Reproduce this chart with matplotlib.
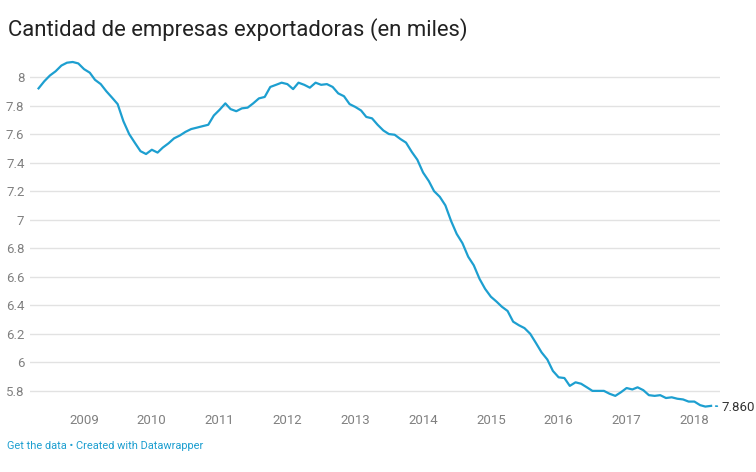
import numpy as np
import pandas as pd
import matplotlib
matplotlib.use("Agg")
import matplotlib.pyplot as plt
import matplotlib.dates as mdates

plt.rcParams['font.family'] = ['Roboto', 'DejaVu Sans']

# monthly series, May 2008 - Apr 2018 (thousands of exporting firms)
meses = pd.date_range('2008-05-01', periods=120, freq='MS')
empresas = [
    7.92, 7.97, 8.01, 8.04, 8.08, 8.10, 8.105, 8.095, 8.055, 8.03,
    7.98, 7.95, 7.90, 7.855, 7.81, 7.69, 7.60, 7.54, 7.48, 7.46,
    7.49, 7.47, 7.505, 7.535, 7.57, 7.59, 7.615, 7.635, 7.645, 7.655,
    7.665, 7.73, 7.77, 7.815, 7.775, 7.76, 7.78, 7.785, 7.815, 7.85,
    7.86, 7.93, 7.945, 7.96, 7.95, 7.915, 7.96, 7.945, 7.925, 7.96,
    7.945, 7.95, 7.93, 7.885, 7.865, 7.81, 7.79, 7.765, 7.72, 7.71,
    7.665, 7.625, 7.60, 7.595, 7.565, 7.54, 7.475, 7.42, 7.33, 7.27,
    7.20, 7.16, 7.10, 6.99, 6.90, 6.835, 6.74, 6.68, 6.585, 6.515,
    6.46, 6.425, 6.39, 6.36, 6.285, 6.26, 6.24, 6.20, 6.135, 6.07,
    6.02, 5.94, 5.895, 5.89, 5.835, 5.86, 5.85, 5.825, 5.80, 5.80,
    5.80, 5.78, 5.765, 5.79, 5.82, 5.81, 5.825, 5.805, 5.77, 5.765,
    5.77, 5.75, 5.755, 5.745, 5.74, 5.725, 5.725, 5.70, 5.69, 5.695,
]
yticks = [5.8, 6, 6.2, 6.4, 6.6, 6.8, 7, 7.2, 7.4, 7.6, 7.8, 8]
ytick_labels = ['5.8', '6', '6.2', '6.4', '6.6', '6.8', '7', '7.2', '7.4', '7.6', '7.8', '8']
years = list(range(2009, 2019))
end_label = '7.860'

W, H = 756, 472
fig = plt.figure(figsize=(W / 100, H / 100), dpi=100)
ax = fig.add_axes([30 / W, 1 - 410 / H, 690 / W, 355 / H])

ax.plot(meses, empresas, color='#1d9fd0', lw=1.6, solid_joinstyle='round')

ax.set_ylim(5.666, 8.154)
ax.set_xlim(pd.Timestamp('2008-03-16'), pd.Timestamp('2018-05-19'))
ax.set_yticks(yticks)
ax.set_yticklabels(ytick_labels)
ax.set_xticks([pd.Timestamp(f'{y}-01-01') for y in years])
ax.set_xticklabels([str(y) for y in years])
ax.grid(axis='y', color='#e2e2e2', lw=1)
ax.set_axisbelow(True)
for s in ax.spines.values():
    s.set_visible(False)
ax.tick_params(axis='y', length=0, pad=4, labelsize=9.5, labelcolor='#808080')
ax.tick_params(axis='x', length=0, pad=3, labelsize=9.5, labelcolor='#808080')

# end value label with dotted connector
ax.annotate(end_label, xy=(meses[-1], empresas[-1]), xytext=(7.5, -1),
            textcoords='offset points', va='center', ha='left',
            fontsize=9.5, color='#333333',
            arrowprops=dict(arrowstyle='-', linestyle=(0, (1, 2)), color='#1d9fd0',
                            lw=1.2, shrinkA=1, shrinkB=1))

fig.text(8 / W, 1 - 30 / H, 'Cantidad de empresas exportadoras (en miles)',
         fontsize=15.9, color='#222222', va='center', ha='left')
fig.text(7 / W, 1 - 446 / H, 'Get the data \u2022 Created with Datawrapper',
         fontsize=7.9, color='#1d9fd0', va='center', ha='left')

fig.savefig('out.png', dpi=100)
